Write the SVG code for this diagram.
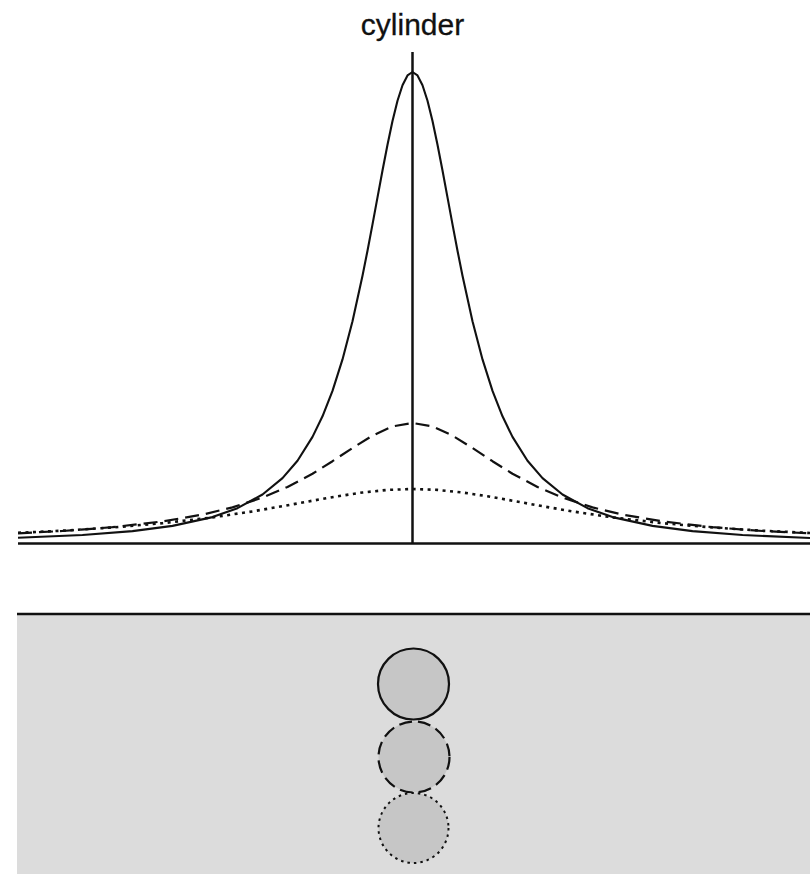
<svg xmlns="http://www.w3.org/2000/svg" width="810" height="874" viewBox="0 0 810 874">
<style>
.title{font-family:"Liberation Sans",Arial,sans-serif;font-size:30px;fill:#111;text-anchor:middle;stroke:#111;stroke-width:0.3}
.axis{stroke:#111;stroke-width:2.5;fill:none}
.curve{fill:none;stroke:#111;stroke-linejoin:round;stroke-linecap:butt}
.solid{stroke-width:2.1}
.dash{stroke-width:2.2;stroke-dasharray:14 7}
.dot{stroke-width:2.6;stroke-dasharray:3 4.5}
.ball{fill:#c6c6c6;stroke:#111}
</style>
<rect width="810" height="874" fill="#ffffff"/>
<text class="title" x="412.5" y="35">cylinder</text>
<g id="plot">
<polyline class="curve solid" points="18,537.8 82.5,535 132.5,531.1 172.5,525.9 212.5,517.1 237.5,508.2 262.5,494.5 282.5,478.1 297.5,460.7 312.5,436.9 322.5,416.3 332.5,390.9 342.5,359.4 352.5,321.2 362.5,275.8 367.5,250.7 372.5,224.4 377.5,197.4 382.5,170.5 387.5,144.7 392.5,121 397.5,100.7 402.5,85.2 407.5,75.4 412.5,72 417.5,75.4 422.5,85.2 427.5,100.7 432.5,121 437.5,144.7 442.5,170.5 447.5,197.4 452.5,224.4 457.5,250.7 462.5,275.8 472.5,321.2 482.5,359.4 492.5,390.9 502.5,416.3 512.5,436.9 527.5,460.7 542.5,478.1 562.5,494.5 587.5,508.2 612.5,517.1 652.5,525.9 692.5,531.1 742.5,535 810,538"/>
<polyline class="curve dash" points="18,533.3 62.5,531 112.5,527.2 162.5,521.4 202.5,514.6 232.5,507.4 262.5,497.6 287.5,487 312.5,473.7 332.5,461.2 352.5,448 372.5,435.6 392.5,426.4 412.5,423 432.5,426.4 452.5,435.6 472.5,448 492.5,461.2 512.5,473.7 537.5,487 562.5,497.6 592.5,507.4 622.5,514.6 662.5,521.4 712.5,527.2 762.5,531 810,533.4"/>
<polyline class="curve dot" points="18,532.8 62.5,530.7 112.5,527.5 162.5,523.2 212.5,517.4 252.5,511.4 282.5,506.2 312.5,500.7 337.5,496.3 362.5,492.5 387.5,489.9 412.5,489 437.5,489.9 462.5,492.5 487.5,496.3 512.5,500.7 542.5,506.2 572.5,511.4 612.5,517.4 662.5,523.2 712.5,527.5 762.5,530.7 810,533"/>
<line class="axis" x1="412.5" y1="52" x2="412.5" y2="543.5"/>
<line class="axis" x1="18" y1="543.5" x2="810" y2="543.5"/>
</g>
<g id="ground">
<rect x="17" y="614" width="793" height="260" fill="#dcdcdc"/>
<line class="axis" x1="17" y1="614" x2="810" y2="614"/>
</g>
<g id="cylinder-shallow"><circle class="ball" cx="413.5" cy="684" r="35.5" stroke-width="2.2"/></g>
<g id="cylinder-middle"><circle class="ball" cx="414" cy="757" r="35.5" stroke-width="2.2" stroke-dasharray="13 6"/></g>
<g id="cylinder-deep"><circle class="ball" cx="413.5" cy="828" r="35" stroke-width="2" stroke-dasharray="2.5 4"/></g>
</svg>
